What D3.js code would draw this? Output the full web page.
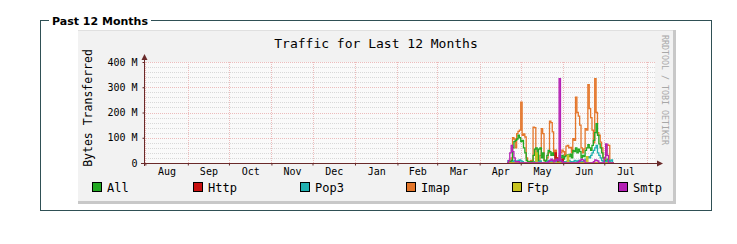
<!DOCTYPE html>
<html>
<head>
<meta charset="utf-8">
<script src="https://cdn.jsdelivr.net/npm/d3@7"></script>
<style>
  body { margin: 0; background: #fff; }
  text { font-family: "DejaVu Sans Mono", monospace; }
</style>
</head>
<body>
<div id="chart"></div>
<script>
// daily values (M bytes), first day 2008-04-21
var startDay = "2008-04-21";
var seriesNames = ["All", "Http", "Pop3", "Imap", "Ftp", "Smtp"];
var seriesColors = ["#22a822", "#c81010", "#20b0b0", "#e4762a", "#c8c420", "#b420b4"];

var imap = [0, 0, 0, 20, 100, 95, 60, 116, 125, 130, 241, 110, 115, 103, 20, 5, 0, 10, 5, 142,
  140, 15, 5, 10, 30, 136, 116, 10, 5, 20, 40, 166, 160, 123, 30, 51, 20, 10, 30, 40,
  51, 45, 30, 67, 70, 60, 62, 40, 96, 90, 261, 200, 186, 150, 60, 40, 56, 136, 130, 310,
  215, 180, 130, 80, 334, 200, 120, 110, 83, 60, 20, 10, 30, 72, 70, 0, 0, 0];
var all = [0, 0, 5, 10, 60, 85, 90, 95, 110, 100, 85, 90, 60, 40, 10, 5, 0, 5, 0, 30,
  55, 60, 10, 55, 60, 20, 40, 10, 0, 30, 50, 45, 30, 40, 30, 20, 10, 5, 10, 20,
  30, 15, 25, 30, 32, 25, 35, 20, 50, 45, 60, 40, 55, 45, 20, 30, 25, 50, 60, 73,
  60, 50, 70, 90, 120, 156, 110, 76, 60, 40, 20, 10, 5, 15, 10, 0, 0, 0];
var pop3 = [8, 0, 0, 0, 5, 10, 8, 5, 10, 12, 8, 5, 0, 0, 0, 0, 0, 0, 0, 0,
  5, 10, 0, 5, 8, 0, 0, 0, 0, 5, 10, 8, 0, 5, 10, 5, 0, 0, 0, 5,
  10, 5, 0, 5, 8, 10, 5, 0, 5, 10, 8, 5, 10, 5, 0, 5, 10, 15, 20, 25,
  20, 30, 40, 50, 60, 70, 40, 30, 20, 10, 5, 0, 5, 10, 0, 8, 12, 0];
var http = [0, 0, 0, 0, 0, 0, 0, 0, 0, 0, 0, 0, 0, 0, 0, 0, 0, 0, 0, 0,
  0, 0, 0, 0, 0, 0, 0, 0, 0, 0, 0, 0, 0, 0, 10, 40, 20, 0, 0, 0,
  15, 0, 0, 0, 0, 0, 0, 0, 0, 0, 0, 0, 0, 0, 0, 0, 0, 0, 0, 0,
  0, 0, 0, 0, 0, 0, 0, 0, 0, 0, 0, 0, 0, 0, 0, 0, 0, 0];
var ftp = [0, 0, 0, 0, 0, 0, 0, 0, 0, 0, 0, 0, 0, 0, 0, 0, 0, 0, 0, 0,
  0, 40, 0, 0, 0, 0, 0, 0, 0, 0, 0, 0, 0, 0, 0, 0, 0, 0, 0, 0,
  0, 0, 0, 0, 30, 0, 0, 0, 0, 0, 0, 0, 0, 0, 0, 0, 0, 0, 25, 0,
  0, 0, 0, 0, 0, 0, 0, 0, 0, 0, 0, 0, 0, 0, 0, 0, 0, 0];
var smtp = [0, 10, 40, 70, 45, 20, 5, 5, 5, 0, 0, 0, 0, 0, 0, 0, 0, 0, 0, 0,
  0, 0, 0, 0, 0, 0, 0, 0, 0, 0, 5, 10, 15, 10, 5, 10, 15, 10, 334, 10,
  5, 0, 0, 0, 0, 0, 0, 0, 0, 0, 0, 0, 5, 10, 15, 12, 8, 0, 0, 0,
  0, 0, 0, 5, 12, 10, 8, 0, 0, 0, 0, 20, 76, 30, 0, 0, 0, 0];

var yTicks = [0, 100, 200, 300, 400];
var monthStarts = ["2007-08-01", "2007-09-01", "2007-10-01", "2007-11-01", "2007-12-01", "2008-01-01",
  "2008-02-01", "2008-03-01", "2008-04-01", "2008-05-01", "2008-06-01", "2008-07-01", "2008-08-01"];

var svgWidth = 737, svgHeight = 244;
var svg = d3.select("#chart").append("svg")
  .attr("width", svgWidth)
  .attr("height", svgHeight);

// fieldset frame
svg.append("rect")
  .attr("x", 40.5).attr("y", 20.5).attr("width", 671).attr("height", 190)
  .attr("fill", "none").attr("stroke", "#2f5055");
svg.append("rect")
  .attr("x", 49).attr("y", 12).attr("width", 102).attr("height", 16)
  .attr("fill", "#fff");
svg.append("text")
  .attr("x", 52).attr("y", 25)
  .style("font-family", "'DejaVu Sans', Verdana, sans-serif")
  .style("font-weight", "bold").style("font-size", "11px")
  .text("Past 12 Months");

// rrd image background with shadow
svg.append("rect").attr("x", 78).attr("y", 30).attr("width", 598).attr("height", 174).attr("fill", "#c8c8c8");
svg.append("rect").attr("x", 78).attr("y", 30).attr("width", 595).attr("height", 171).attr("fill", "#f2f2f2");
svg.append("rect").attr("x", 78).attr("y", 30).attr("width", 595).attr("height", 1).attr("fill", "#e0e0e0");

var plotLeft = 144, plotRight = 655, plotTop = 62, plotBottom = 163;

var x = d3.scaleUtc()
  .domain([new Date("2007-07-31"), new Date("2008-08-07")])
  .range([plotLeft, plotRight]);
var y = d3.scaleLinear().domain([0, 400]).range([plotBottom, plotTop]);

var plot = svg.append("g");
plot.append("rect")
  .attr("x", plotLeft).attr("y", plotTop)
  .attr("width", plotRight - plotLeft).attr("height", plotBottom - plotTop)
  .attr("fill", "#fafafa");

// minor horizontal grid
plot.selectAll(".minor")
  .data(d3.range(20, 400, 20).filter(v => v % 100 !== 0))
  .enter().append("line")
  .attr("x1", plotLeft).attr("x2", plotRight)
  .attr("y1", d => Math.round(y(d)) + 0.5).attr("y2", d => Math.round(y(d)) + 0.5)
  .attr("stroke", "#d8d8d8").attr("stroke-dasharray", "1,1");

var months = monthStarts.map(d => new Date(d));
plot.selectAll(".vgrid")
  .data(months.filter(d => x(d) < plotRight))
  .enter().append("line")
  .attr("x1", d => Math.round(x(d)) + 0.5).attr("x2", d => Math.round(x(d)) + 0.5)
  .attr("y1", plotTop).attr("y2", plotBottom)
  .attr("stroke", "#ecbcbc").attr("stroke-dasharray", "1,1");

plot.selectAll(".major")
  .data(yTicks.slice(1))
  .enter().append("line")
  .attr("x1", plotLeft).attr("x2", plotRight)
  .attr("y1", d => Math.round(y(d)) + 0.5).attr("y2", d => Math.round(y(d)) + 0.5)
  .attr("stroke", "#ecbcbc").attr("stroke-dasharray", "1,1");

// series as step lines
var t0 = new Date(startDay);
var seriesData = [all, http, pop3, imap, ftp, smtp];
var drawOrder = [3, 0, 2, 1, 4, 5];

var line = d3.line()
  .x(d => x(d[0]))
  .y(d => y(d[1]))
  .curve(d3.curveStepAfter);

drawOrder.forEach(function (k) {
  var vals = seriesData[k];
  var pts = vals.map((v, i) => [d3.utcDay.offset(t0, i), v]);
  pts.push([d3.utcDay.offset(t0, vals.length), vals[vals.length - 1]]);
  plot.append("path")
    .datum(pts)
    .attr("d", line)
    .attr("fill", "none")
    .attr("stroke", seriesColors[k])
    .attr("stroke-width", 1.3);
});

// axes
var axisColor = "#6a2a2a";
var leftAxis = d3.axisLeft(y)
  .tickValues(yTicks)
  .tickSize(2)
  .tickFormat(d => d ? d + " M" : "0");
var gy = svg.append("g")
  .attr("transform", `translate(${plotLeft + 0.5},0)`)
  .call(leftAxis);
gy.select(".domain").remove();
gy.selectAll("line").attr("stroke", axisColor);
gy.selectAll("text")
  .attr("x", -7)
  .style("font-size", "10px").attr("fill", "#000");

var bottomAxis = d3.axisBottom(x)
  .tickValues(months.slice(0, 12))
  .tickSize(2)
  .tickFormat(d3.utcFormat("%b"));
var gx = svg.append("g")
  .attr("transform", `translate(0,${plotBottom + 0.5})`)
  .call(bottomAxis);
gx.select(".domain").remove();
gx.selectAll("line").attr("stroke", axisColor);
gx.selectAll("text")
  .attr("x", (d, i) => (x(months[i + 1]) - x(d)) / 2)
  .attr("y", 4)
  .style("font-size", "10px").attr("fill", "#000");

svg.append("line")
  .attr("x1", plotLeft + 0.5).attr("x2", plotLeft + 0.5)
  .attr("y1", plotBottom + 3).attr("y2", plotTop - 4)
  .attr("stroke", axisColor);
svg.append("line")
  .attr("x1", plotLeft - 3).attr("x2", plotRight + 3)
  .attr("y1", plotBottom + 0.5).attr("y2", plotBottom + 0.5)
  .attr("stroke", axisColor);
svg.append("path")
  .attr("d", `M${plotLeft - 2.5},${plotTop - 2} L${plotLeft + 3.5},${plotTop - 2} L${plotLeft + 0.5},${plotTop - 8} Z`)
  .attr("fill", axisColor);
svg.append("path")
  .attr("d", `M${plotRight + 2},${plotBottom - 2.5} L${plotRight + 2},${plotBottom + 3.5} L${plotRight + 8},${plotBottom + 0.5} Z`)
  .attr("fill", axisColor);

// titles
svg.append("text")
  .attr("x", 376).attr("y", 48)
  .attr("text-anchor", "middle")
  .style("font-size", "13px")
  .text("Traffic for Last 12 Months");

svg.append("text")
  .attr("transform", "translate(92,108) rotate(-90)")
  .attr("text-anchor", "middle")
  .style("font-size", "11.5px")
  .text("Bytes Transferred");

svg.append("text")
  .attr("transform", "translate(662,35) rotate(90)")
  .attr("text-anchor", "start")
  .style("font-size", "8.3px")
  .attr("fill", "#a8a8a8")
  .text("RRDTOOL / TOBI OETIKER");

// legend
var legendX = [92, 193, 300, 406, 512, 618];
var lg = svg.selectAll(".legend")
  .data(seriesNames)
  .enter().append("g")
  .attr("transform", (d, i) => `translate(${legendX[i]},182)`);
lg.append("rect")
  .attr("x", 0.5).attr("y", 0.5).attr("width", 9).attr("height", 9)
  .attr("fill", (d, i) => seriesColors[i])
  .attr("stroke", "#000");
lg.append("text")
  .attr("x", 15).attr("y", 9.5)
  .style("font-size", "12px")
  .text(d => d);
</script>
</body>
</html>
